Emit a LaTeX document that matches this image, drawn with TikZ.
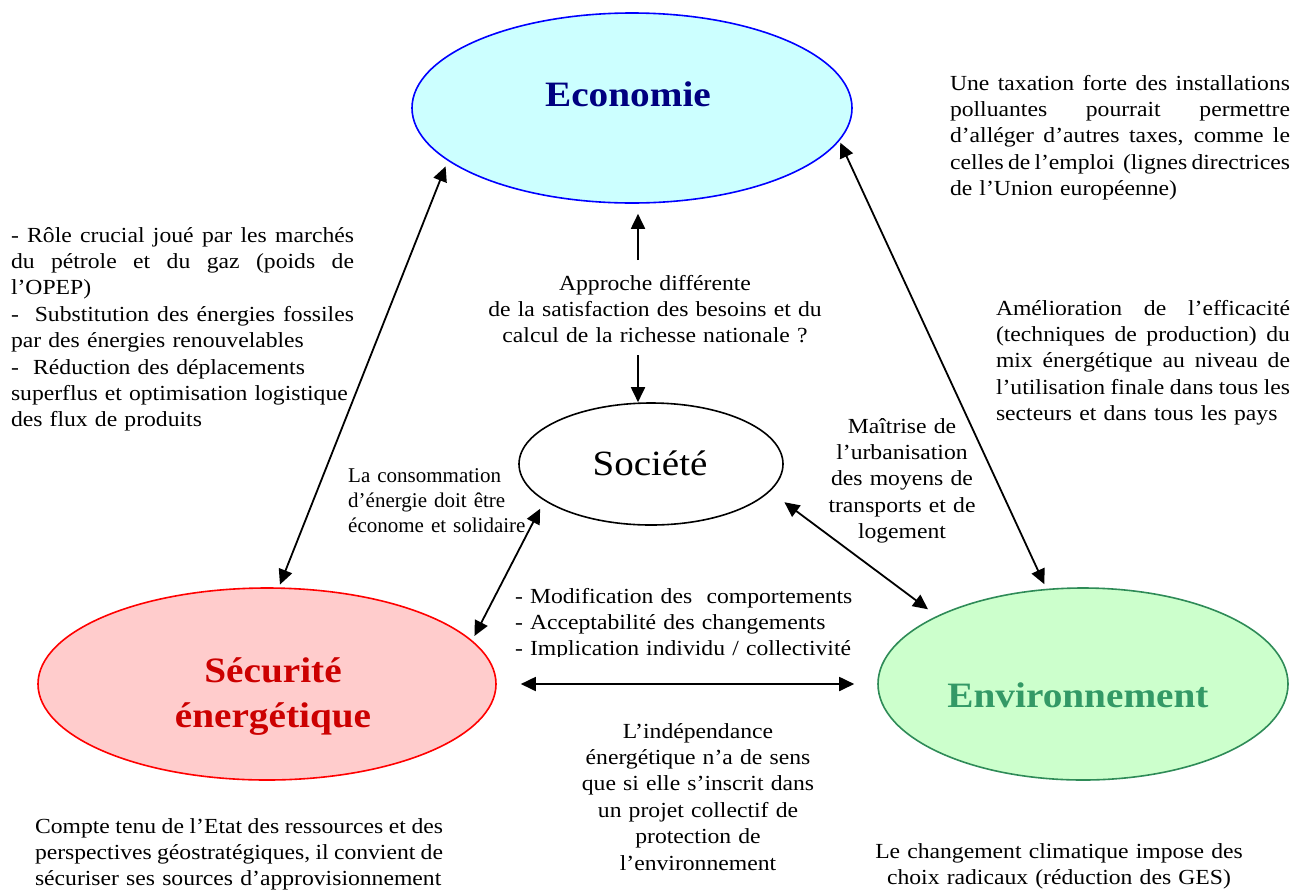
\documentclass[tikz,border=0pt]{standalone}
\usepackage{fontspec}
\setmainfont{Liberation Serif}[FakeStretch=1.1]
\newfontfamily\termesfont{Liberation Serif}
\usetikzlibrary{shapes.geometric,arrows.meta}
\definecolor{ecofill}{HTML}{CCFFFF}
\definecolor{ecotext}{HTML}{000080}
\definecolor{secfill}{HTML}{FFCCCC}
\definecolor{sectext}{HTML}{CC0000}
\definecolor{envfill}{HTML}{CCFFCC}
\definecolor{envline}{HTML}{2E8B57}
\definecolor{envtext}{HTML}{339966}
\newcommand\justline[2]{\makebox[#1][s]{\spaceskip=0pt\xspaceskip=0pt #2}}
\tikzset{
  body/.style={inner sep=0pt, outer sep=0pt, font=\fontsize{21.5}{26.4}\selectfont},
  blockleft/.style={body, anchor=base west, align=left},
  blockcenter/.style={body, anchor=base, align=center},
  bubble/.style={ellipse, inner sep=0pt, line width=1.6pt},
  head/.style={anchor=base, inner sep=0pt, font=\fontsize{35.7}{45}\selectfont\bfseries},
  arr/.style={line width=1.8pt, -{Triangle[length=15pt,width=14pt]}},
  dbl/.style={line width=1.8pt, {Triangle[length=15pt,width=14pt]}-{Triangle[length=15pt,width=14pt]}},
}
\begin{document}
\begin{tikzpicture}[x=1pt,y=-1pt]
\path[fill=white, use as bounding box] (0,0) rectangle (1305,892);

% ellipses
\node[bubble, draw=blue, fill=ecofill, minimum width=440pt, minimum height=190pt] (eco) at (632,108) {};
\node[bubble, draw=black, fill=white, minimum width=264pt, minimum height=122pt] (soc) at (651,464) {};
\node[bubble, draw=red, fill=secfill, minimum width=458pt, minimum height=192pt] (sec) at (267,684) {};
\node[bubble, draw=envline, fill=envfill, minimum width=410pt, minimum height=192pt] (env) at (1083,684) {};

% titles
\node[head, text=ecotext] (ecot) at (628,106) {Economie};
\node[anchor=base, inner sep=0pt, font=\fontsize{35.5}{45}\selectfont] (soct) at (650,475) {Société};
\node[head, text=sectext, text width=300pt, align=center] (sect) at (273,682) {Sécurité\\énergétique};
\node[head, text=envtext] (envt) at (1078,707) {Environnement};

% texts
\node[blockleft, text width=343pt] (tleft) at (11,242) {%
\justline{343pt}{- Rôle crucial joué par les marchés}\\
\justline{343pt}{du pétrole et du gaz (poids de}\\
l’OPEP)\\
\justline{343pt}{-\ \ Substitution des énergies fossiles}\\
par des énergies renouvelables\\
-\ \ Réduction des déplacements\\
superflus et optimisation logistique\\
des flux de produits};

\node[blockleft, text width=340pt] (ttax) at (950,90) {%
\justline{340pt}{Une taxation forte des installations}\\
\justline{340pt}{polluantes pourrait permettre}\\
\justline{340pt}{d’alléger d’autres taxes, comme le}\\
\justline{340pt}{celles de l’emploi\ \ (lignes directrices}\\
de l’Union européenne)};

\node[blockleft, text width=294pt] (teff) at (996,315) {%
\justline{294pt}{Amélioration de l’efficacité}\\
\justline{294pt}{(techniques de production) du}\\
\justline{294pt}{mix énergétique au niveau de}\\
\justline{294pt}{l’utilisation finale dans tous les}\\
secteurs et dans tous les pays};

\node[blockleft, text width=408pt] (tcompte) at (35,833) {%
\justline{408pt}{Compte tenu de l’Etat des ressources et des}\\
\justline{408pt}{perspectives géostratégiques, il convient de}\\
sécuriser ses sources d’approvisionnement};

\node[blockcenter, text width=360pt] (tappr) at (655,290) {Approche différente\\de la satisfaction des besoins et du\\calcul de la richesse nationale ?};

\node[blockcenter, text width=200pt] (tmait) at (902,433) {Maîtrise de\\l’urbanisation\\des moyens de\\transports et de\\logement};

\begin{scope}
\clip (505,570) rectangle (870,656);
\node[blockleft, text width=360pt] (tmodif) at (515,603) {- Modification des\ \ comportements\\- Acceptabilité des changements\\- Implication individu / collectivité};
\end{scope}

\node[blockcenter, text width=300pt] (tindep) at (698,738) {L’indépendance\\énergétique n’a de sens\\que si elle s’inscrit dans\\un projet collectif de\\protection de\\l’environnement};

\node[blockcenter, text width=400pt] (tclim) at (1059,858) {Le changement climatique impose des\\choix radicaux (réduction des GES)};

\node[anchor=base west, inner sep=0pt, align=left, text width=200pt, font=\termesfont\fontsize{21}{25}\selectfont] (tconso) at (348,482) {La consommation\\d’énergie doit être\\économe et solidaire};

% connectors
\coordinate (up0) at (638,260);
\coordinate (dn0) at (638,355);
\draw[arr, shorten >=10pt] (up0) -- (up0 |- eco.south);
\draw[arr] (dn0) -- (dn0 |- soc.north);
\draw[dbl, shorten <=6pt, shorten >=3pt] (eco.196.2) -- (sec.83);
\draw[dbl, shorten <=2pt, shorten >=5pt] (eco.351) -- (env.111.4);
\draw[dbl, shorten <=5pt, shorten >=9pt] (sec.12.3) -- (soc.199.8);
\draw[dbl, shorten <=18pt, shorten >=11pt] (soc.347.4) -- (env.155.5);
\draw[dbl, shorten <=24pt, shorten >=23pt] (sec.east) -- (env.west);
\end{tikzpicture}
\end{document}
